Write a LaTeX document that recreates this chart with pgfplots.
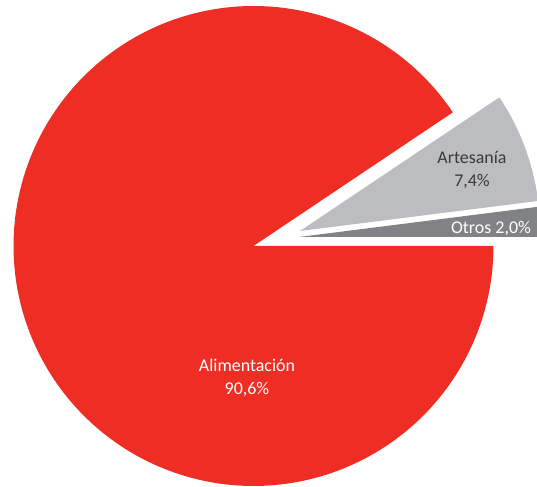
\documentclass[border=0pt]{standalone}
\usepackage{fontspec}
\setmainfont{Carlito}
\usepackage{pgfplots}
\pgfplotsset{compat=1.18}
\definecolor{cRed}{HTML}{EE2E24}
\definecolor{cLight}{HTML}{BCBDC0}
\definecolor{cDark}{HTML}{808285}
\definecolor{cText}{HTML}{3A3A3C}
% shares (percent)
\def\vAlim{90.6}
\def\vArt{7.4}
\def\vOtr{2.0}
\begin{document}
\begin{tikzpicture}
\pgfmathsetmacro{\aOtr}{3.6*\vOtr}
\pgfmathsetmacro{\aArt}{\aOtr+3.6*\vArt}
\begin{axis}[
  width=537bp, height=487bp, scale only axis,
  xmin=0, xmax=537, ymin=0, ymax=487,
  hide axis, clip=true,
]
% centre (253.5,241) in axis units, radius 240
\addplot[draw=none, fill=cRed, domain=\aArt:360, samples=240, variable=\t]
  ({253.5+240*cos(\t)},{241+240*sin(\t)}) -- (axis cs:253.5,241) -- cycle;
\addplot[draw=none, fill=cLight, domain=\aOtr:\aArt, samples=60, variable=\t]
  ({300+240*cos(\t)},{256+240*sin(\t)}) -- (axis cs:300,256) -- cycle;
\addplot[draw=none, fill=cDark, domain=0:\aOtr, samples=30, variable=\t]
  ({299+240*cos(\t)},{250+240*sin(\t)}) -- (axis cs:299,250) -- cycle;
\node[text=white, font=\fontsize{18}{23}\selectfont, align=center] at (axis cs:247,109) {Alimentación\\90,6\%};
\node[text=cText, font=\fontsize{18}{23}\selectfont, align=center] at (axis cs:472,317) {Artesanía\\7,4\%};
\node[text=white, font=\fontsize{18}{20}\selectfont] at (axis cs:491,258) {Otros 2,0\%};
\end{axis}
\pgfresetboundingbox
\path[use as bounding box] (current axis.south west) rectangle (current axis.north east);
\end{tikzpicture}
\end{document}
